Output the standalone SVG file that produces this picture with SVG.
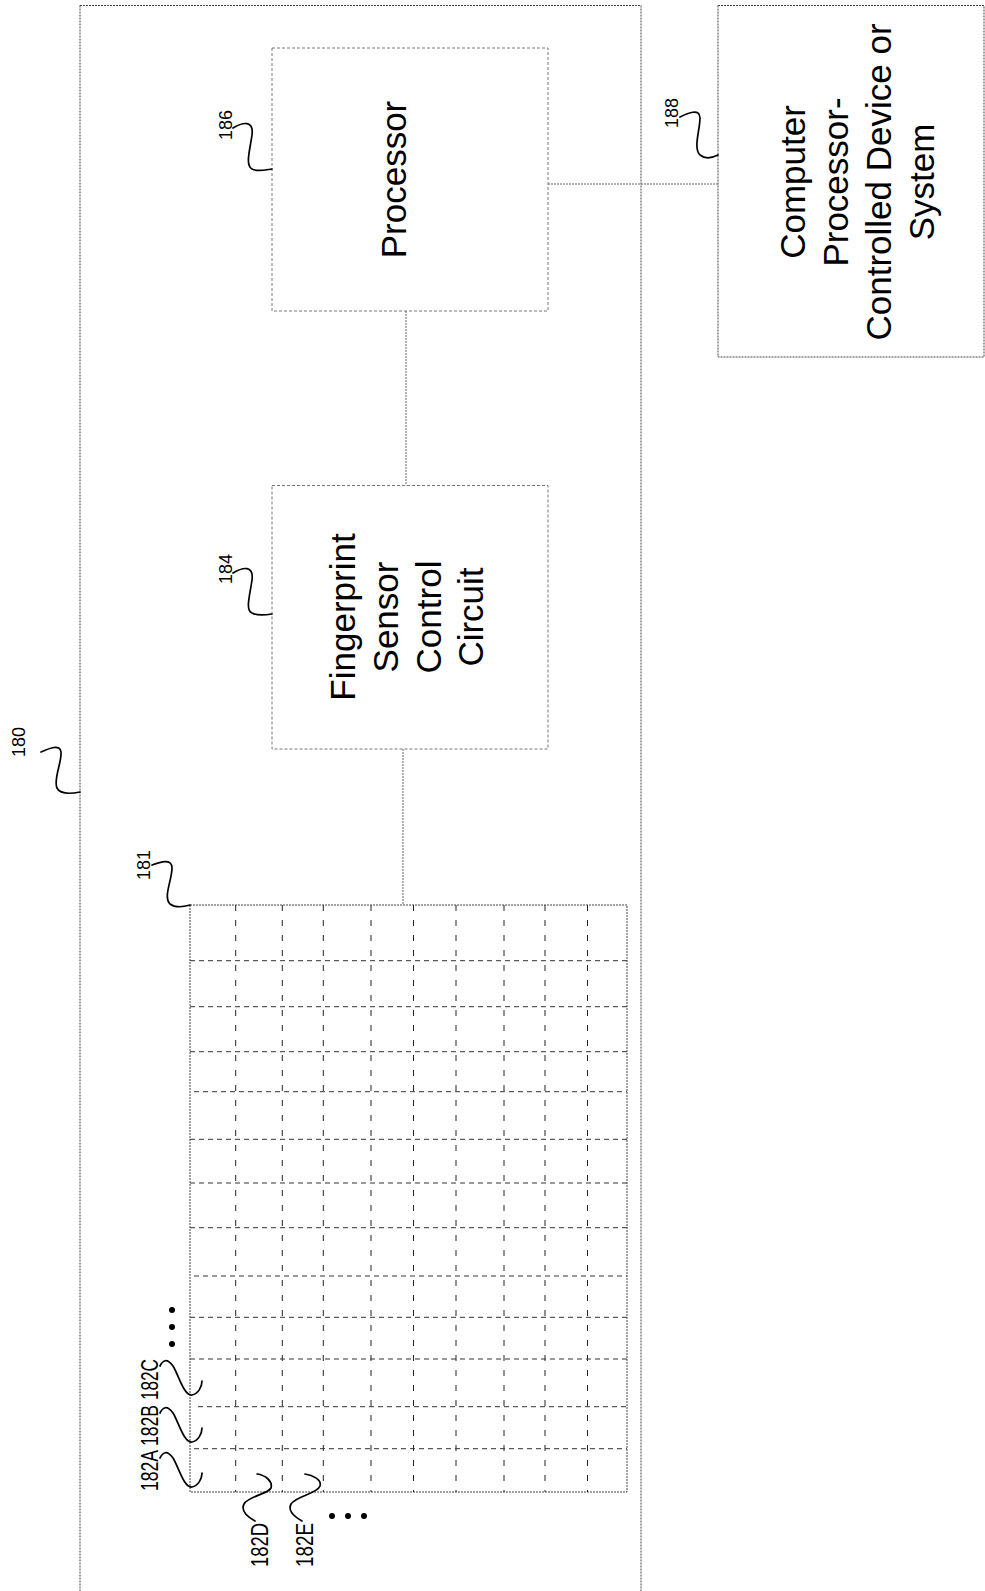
<svg xmlns="http://www.w3.org/2000/svg" width="985" height="1591" viewBox="0 0 985 1591">
<style>
.box{fill:none;stroke:#444;stroke-width:1;stroke-dasharray:2,1}
.ibox{fill:none;stroke:#777;stroke-width:1;stroke-dasharray:3,2}
.conn{fill:none;stroke:#666;stroke-width:1;stroke-dasharray:2,1}
.gv{stroke:#222;stroke-width:1;stroke-dasharray:6,9}
.gh{stroke:#333;stroke-width:1;stroke-dasharray:5,4}
.lead{fill:none;stroke:#000;stroke-width:1.7;stroke-linecap:round}
.big{font-family:"Liberation Sans",Arial,sans-serif;font-size:35px;fill:#000;text-anchor:middle}
.num{font-family:"Liberation Sans",Arial,sans-serif;font-size:18px;fill:#000;text-anchor:middle}
.ref{font-family:"Liberation Sans",Arial,sans-serif;font-size:23px;fill:#000}
.dot{fill:#000}
</style>
<rect width="985" height="1591" fill="#fff"/>

<g id="n180">
<rect class="box" x="80" y="5.5" width="561" height="1600"/>
<text class="num" transform="translate(25,742) rotate(-90)">180</text>
<path class="lead" d="M41,752 C50,748 60,744 61,752 C62,762 53,780 57,788 C60,794 70,794 80,792"/>
</g>

<g id="n186">
<rect class="ibox" x="272" y="48" width="276" height="263"/>
<text class="big" transform="translate(406,179.5) rotate(-90)">Processor</text>
<text class="num" transform="translate(232,125) rotate(-90)">186</text>
<path class="lead" d="M233,128 C243,122 254,120 252,135 C250,150 245,165 252,169 C257,172 265,170 272,169"/>
</g>

<g id="n184">
<rect class="ibox" x="272" y="485.5" width="276" height="263.5"/>
<text class="big" transform="translate(355,617) rotate(-90)">Fingerprint</text>
<text class="big" transform="translate(398,617) rotate(-90)">Sensor</text>
<text class="big" transform="translate(441,617) rotate(-90)">Control</text>
<text class="big" transform="translate(483,617) rotate(-90)">Circuit</text>
<text class="num" transform="translate(232,569) rotate(-90)">184</text>
<path class="lead" d="M233,573 C243,567 254,565 252,580 C250,595 245,610 252,613 C257,616 265,615 272,614"/>
</g>

<g id="n188">
<rect class="box" x="718" y="5.5" width="266" height="351.5"/>
<text class="big" transform="translate(805,182) rotate(-90)">Computer</text>
<text class="big" transform="translate(848,182) rotate(-90)">Processor-</text>
<text class="big" transform="translate(891,182) rotate(-90)">Controlled Device or</text>
<text class="big" transform="translate(934,182) rotate(-90)">System</text>
<text class="num" transform="translate(678,113) rotate(-90)">188</text>
<path class="lead" d="M680,117 C688,113 700,108 700,118 C700,130 693,148 700,155 C705,159 712,158 718,155"/>
</g>

<g id="n181">
<rect class="box" x="190" y="905" width="437" height="587"/>
<g id="grid-v">
<line class="gv" x1="235.7" y1="905" x2="235.7" y2="1492"/>
<line class="gv" x1="282.3" y1="905" x2="282.3" y2="1492"/>
<line class="gv" x1="323.3" y1="905" x2="323.3" y2="1492"/>
<line class="gv" x1="371" y1="905" x2="371" y2="1492"/>
<line class="gv" x1="413.5" y1="905" x2="413.5" y2="1492"/>
<line class="gv" x1="456" y1="905" x2="456" y2="1492"/>
<line class="gv" x1="504" y1="905" x2="504" y2="1492"/>
<line class="gv" x1="545" y1="905" x2="545" y2="1492"/>
<line class="gv" x1="587.5" y1="905" x2="587.5" y2="1492"/>
</g>
<g id="grid-h">
<line class="gh" x1="190" y1="960.7" x2="627" y2="960.7"/>
<line class="gh" x1="190" y1="1006.7" x2="627" y2="1006.7"/>
<line class="gh" x1="190" y1="1051.7" x2="627" y2="1051.7"/>
<line class="gh" x1="194" y1="1091.7" x2="627" y2="1091.7"/>
<line class="gh" x1="190" y1="1139.3" x2="627" y2="1139.3"/>
<line class="gh" x1="190" y1="1183" x2="627" y2="1183"/>
<line class="gh" x1="190" y1="1227.7" x2="627" y2="1227.7"/>
<line class="gh" x1="194" y1="1276" x2="627" y2="1276"/>
<line class="gh" x1="190" y1="1317.3" x2="627" y2="1317.3"/>
<line class="gh" x1="190" y1="1359" x2="627" y2="1359"/>
<line class="gh" x1="198" y1="1406.7" x2="627" y2="1406.7"/>
<line class="gh" x1="194" y1="1448.7" x2="627" y2="1448.7"/>
</g>
<text class="num" transform="translate(150,865) rotate(-90)">181</text>
<path class="lead" d="M152,865 C160,862 172,858 172,868 C172,880 163,897 170,904 C175,908 183,907 190,905"/>
</g>

<g id="n182A">
<text class="ref" transform="translate(158,1491) rotate(-90)" textLength="41" lengthAdjust="spacingAndGlyphs">182A</text>
<path class="lead" d="M160,1458 C163,1452 167,1450 173,1458 C179,1468 184,1488 192,1487 C198,1486 202,1479 202,1473"/>
</g>
<g id="n182B">
<text class="ref" transform="translate(158,1446) rotate(-90)" textLength="41" lengthAdjust="spacingAndGlyphs">182B</text>
<path class="lead" d="M160,1413 C163,1407 167,1405 173,1413 C179,1423 184,1443 192,1442 C198,1441 202,1434 202,1428"/>
</g>
<g id="n182C">
<text class="ref" transform="translate(158,1400) rotate(-90)" textLength="41" lengthAdjust="spacingAndGlyphs">182C</text>
<path class="lead" d="M160,1366 C163,1360 167,1358 173,1366 C179,1376 184,1396 192,1395 C198,1394 202,1387 202,1381"/>
</g>
<g id="n182D">
<text class="ref" transform="translate(268,1567) rotate(-90)" textLength="44" lengthAdjust="spacingAndGlyphs">182D</text>
<path class="lead" d="M255,1521 C246,1516 241,1510 244,1504 C249,1496 268,1494 271,1488 C273,1481 265,1475 257,1474"/>
</g>
<g id="n182E">
<text class="ref" transform="translate(313,1567) rotate(-90)" textLength="44" lengthAdjust="spacingAndGlyphs">182E</text>
<path class="lead" d="M302,1521 C293,1516 288,1510 291,1504 C296,1496 317,1494 320,1486 C322,1480 313,1475 305,1474"/>
</g>
<g id="ellipses">
<circle class="dot" cx="172" cy="1310" r="3"/>
<circle class="dot" cx="172" cy="1327" r="3"/>
<circle class="dot" cx="172" cy="1344" r="3"/>
<circle class="dot" cx="332" cy="1516" r="3"/>
<circle class="dot" cx="348" cy="1516" r="3"/>
<circle class="dot" cx="364" cy="1516" r="3"/>
</g>

<g id="connectors">
<line class="conn" x1="548" y1="184" x2="718" y2="184"/>
<line class="conn" x1="406" y1="311" x2="406" y2="485.5"/>
<line class="conn" x1="403" y1="749" x2="403" y2="905"/>
</g>
</svg>
